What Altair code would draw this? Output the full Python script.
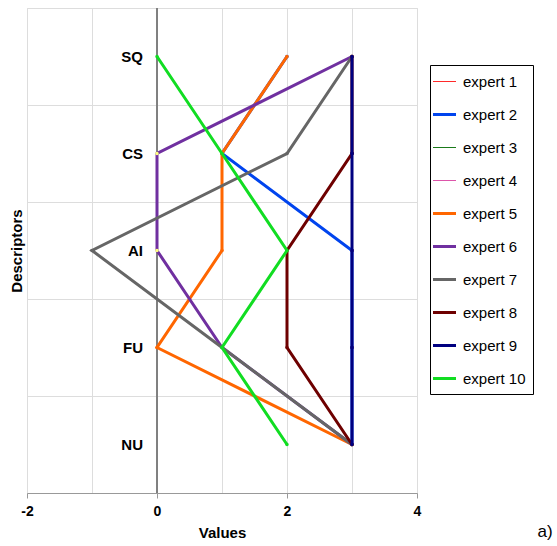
import altair as alt
import pandas as pd

descriptors = ["SQ", "CS", "AI", "FU", "NU"]
experts = ["expert 1", "expert 2", "expert 3", "expert 4", "expert 5",
           "expert 6", "expert 7", "expert 8", "expert 9", "expert 10"]
e1 = [3, 3, 3, 3, 3]
e2 = [2, 1, 3, 3, 3]
e3 = [3, 3, 3, 3, 3]
e4 = [3, 3, 3, 3, 3]
e5 = [2, 1, 1, 0, 3]
e6 = [3, 0, 0, 1, 3]
e7 = [3, 2, -1, 1, 3]
e8 = [3, 3, 2, 2, 3]
e9 = [3, 3, 3, 3, 3]
e10 = [0, 1, 2, 1, 2]
values = [e1, e2, e3, e4, e5, e6, e7, e8, e9, e10]

line_colors = ["#ff2a2a", "#0044ee", "#1a7a1a", "#dd55aa", "#ff6600",
               "#7030a0", "#666666", "#6e0000", "#000080", "#11dd22"]
marker_colors = ["#ff2a2a", "#0044ee", "#1a7a1a", "#dd55aa", "#ff6600",
                 "#ffff80", "#666666", "#6e0000", "#000080", "#11dd22"]
line_widths = [1, 3, 1, 1, 3, 3, 3, 3, 3, 3]
thin_experts = [e for e, w in zip(experts, line_widths) if w == 1]

rows = []
for e, vals, mc in zip(experts, values, marker_colors):
    for i, (d, v) in enumerate(zip(descriptors, vals)):
        rows.append({"expert": e, "desc": d, "ord": i, "value": v, "mcol": mc})
df = pd.DataFrame(rows)

FONT = "Liberation Sans"

x_scale = alt.Scale(domain=[-2, 4], nice=False, zero=False)
y_scale = alt.Scale(type="band", domain=descriptors, paddingInner=0, paddingOuter=0)
color_scale = alt.Scale(domain=experts, range=line_colors)

x_axis = alt.Axis(
    values=[-2, -1, 0, 1, 2, 3, 4],
    labelExpr="datum.value % 2 == 0 ? '' + datum.value : ''",
    tickOpacity={"condition": {"test": "datum.value % 2 != 0", "value": 0}, "value": 1},
    title="Values", grid=True, tickSize=5, labelPadding=6, titlePadding=7,
    labelFlush=False,
    labelFontWeight="bold", labelFontSize=14, titleFontSize=15, titleFontWeight="bold",
    domainColor="#999999", tickColor="#999999", labelColor="black", titleColor="black",
)
y_axis = alt.Axis(
    title="Descriptors", labels=False, ticks=False, domain=False, grid=True,
    tickBand="extent", titlePadding=3, titleFontSize=15, titleFontWeight="bold",
    titleColor="black",
)

thin_list = "[" + ",".join("'" + t + "'" for t in thin_experts) + "]"
legend = alt.Legend(
    title=" ", titleFontSize=2, titlePadding=0, titleLimit=1,
    orient="none", legendX=403, legendY=57,
    strokeColor="black", fillColor="white", padding=7,
    labelFont=FONT, labelFontSize=15, labelColor="black", labelOffset=11,
    labelLimit=64,
    symbolType="stroke", symbolSize=529, rowPadding=17,
    symbolStrokeWidth={"expr": "indexof(" + thin_list + ", datum.value) >= 0 ? 1 : 3"},
)

def xenc():
    return alt.X("value:Q", scale=x_scale, axis=x_axis)

def yenc():
    return alt.Y("desc:N", scale=y_scale, sort=descriptors, axis=y_axis)

zero_rule = alt.Chart(df).mark_rule(color="#808080", strokeWidth=1).encode(
    x=alt.XDatum(0, scale=x_scale, axis=x_axis)
)

layers = [zero_rule]
for e, w in zip(experts, line_widths):
    ln = alt.Chart(df).transform_filter(alt.datum.expert == e).mark_line(
        strokeWidth=w
    ).encode(
        x=xenc(), y=yenc(),
        color=alt.Color("expert:N", scale=color_scale, legend=legend),
        order=alt.Order("ord:Q"),
    )
    pt = alt.Chart(df).transform_filter(alt.datum.expert == e).mark_point(
        filled=True, size=12, opacity=1
    ).encode(
        x=xenc(), y=yenc(),
        color=alt.Color("mcol:N", scale=None),
    )
    layers += [ln, pt]

labels = alt.Chart(pd.DataFrame({"desc": descriptors})).mark_text(
    align="right", baseline="middle", dx=-14, fontWeight="bold", fontSize=15,
    font=FONT, color="black"
).encode(
    x=alt.XDatum(0, scale=x_scale, axis=x_axis),
    y=yenc(),
    text="desc:N",
)

tag = alt.Chart(pd.DataFrame({"t": ["a)"]})).mark_text(
    fontSize=17, font=FONT, color="black", align="center", baseline="middle"
).encode(x=alt.value(518), y=alt.value(524), text="t:N")

chart = alt.layer(*layers, labels, tag).properties(
    width=390, height=485,
    autosize=alt.AutoSizeParams(type="none"),
    padding={"left": 27, "top": 8, "right": 140, "bottom": 53},
).configure_view(stroke="#999999").configure_axis(
    gridColor="#d9d9d9", labelFont=FONT, titleFont=FONT
).configure(background="white")

chart.save("out.html", embed_options={"renderer": "svg", "actions": False})
